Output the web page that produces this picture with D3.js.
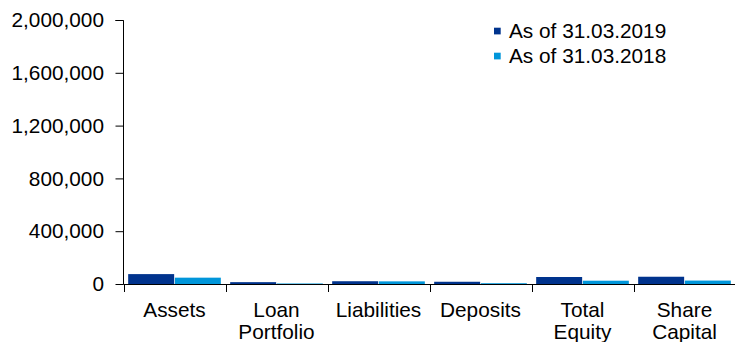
<!DOCTYPE html>
<html><head><meta charset="utf-8">
<script src="https://cdn.jsdelivr.net/npm/d3@7"></script>
<style>
html,body{margin:0;padding:0;background:#fff;}
svg{display:block;font-family:"Liberation Sans",Arial,sans-serif;}
</style></head>
<body><svg id="c" width="735" height="342"></svg>
<script>
const categories = [["Assets"],["Loan","Portfolio"],["Liabilities"],["Deposits"],["Total","Equity"],["Share","Capital"]];
const seriesNames = ["As of 31.03.2019","As of 31.03.2018"];
const values2019 = [75000, 14000, 21000, 17000, 53000, 55000];
const values2018 = [48000, 4000, 20000, 6000, 25000, 26000];
const yTicks = [0, 400000, 800000, 1200000, 1600000, 2000000];
const colors = ["#00338D", "#0096DA"];

(function(){
const svg = d3.select("#c");
const FS = 20.8;
const mLeft = 123.5, mRight = 735.5, mTop = 20, mBottom = 284;
const keys = categories.map((c,i)=>i);
const x = d3.scaleBand().domain(keys).range([mLeft, mRight]).padding(0);
const xs = d3.scaleBand().domain([0,1]).range([0, x.bandwidth()]).paddingInner(0.015).paddingOuter(0.1);
const y = d3.scaleLinear().domain([0, 2000000]).range([mBottom, mTop]);
const series = [values2019, values2018];

series.forEach((vals, s) => {
  svg.append("g").selectAll("rect").data(vals).join("rect")
    .attr("x", (d,i)=>x(i)+xs(s))
    .attr("width", xs.bandwidth())
    .attr("y", d=>y(d))
    .attr("height", d=>y(0)-y(d))
    .attr("fill", colors[s]);
});

const yAxis = svg.append("g").attr("transform", `translate(${mLeft},0)`)
  .call(d3.axisLeft(y).tickValues(yTicks).tickSize(8).tickPadding(11.5).tickFormat(d3.format(",")));
yAxis.selectAll("text").attr("font-size", FS).attr("fill", "#000").attr("font-family", "Liberation Sans, Arial, sans-serif");
yAxis.selectAll("line,path").attr("stroke", "#000");
yAxis.select(".domain").attr("d", `M-8,${mTop+0.5}H0V${mBottom+0.5}`);

const xg = svg.append("g");
xg.append("line").attr("x1", mLeft).attr("x2", 735).attr("y1", mBottom+0.5).attr("y2", mBottom+0.5).attr("stroke", "#000");
xg.selectAll("line.tk").data(keys).join("line").attr("class","tk")
  .attr("x1", d=>Math.round(x(d))+0.5).attr("x2", d=>Math.round(x(d))+0.5)
  .attr("y1", mBottom).attr("y2", mBottom+8).attr("stroke", "#000");

categories.forEach((lines, i) => {
  const t = svg.append("text").attr("text-anchor","middle").attr("font-size",FS).attr("fill","#000");
  lines.forEach((ln, j) => {
    t.append("tspan").attr("x", x(i)+x.bandwidth()/2).attr("y", 316.5 + j*22).text(ln);
  });
});

seriesNames.forEach((n, s) => {
  const yy = 27.7 + s*25;
  svg.append("rect").attr("x", 494).attr("y", yy).attr("width", 6.7).attr("height", 6.7).attr("fill", colors[s]);
  svg.append("text").attr("x", 509).attr("y", yy+10.6).attr("font-size", FS).attr("fill", "#000").text(n);
});
})();
</script></body></html>
